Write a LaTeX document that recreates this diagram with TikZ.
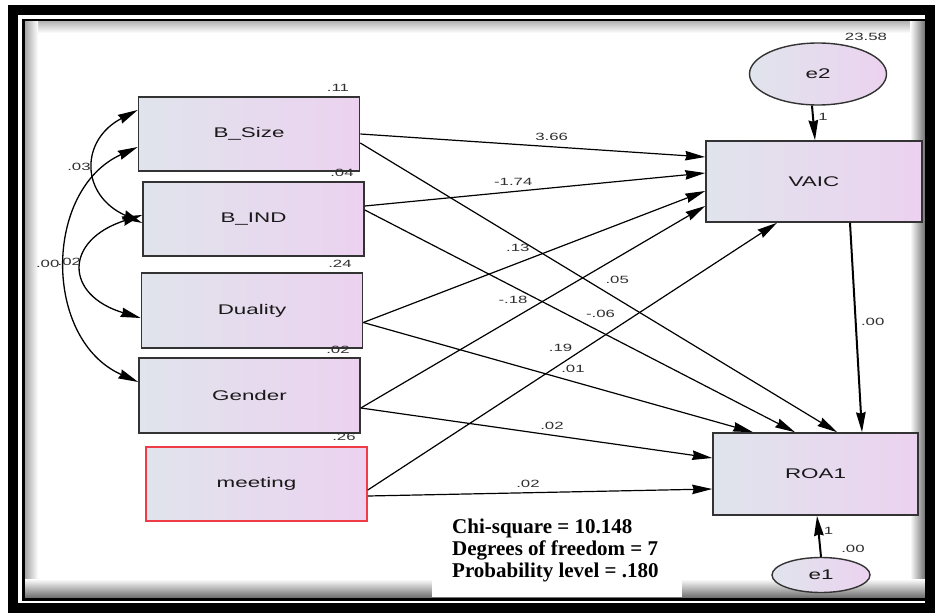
\documentclass[tikz,border=0pt]{standalone}
\usepackage{fontspec}
\setmainfont{Liberation Sans}
\newfontfamily\chifont{Liberation Serif}
\usepackage{graphicx}
\usetikzlibrary{shapes.geometric, arrows.meta}

\definecolor{boxleft}{HTML}{E0E4EC}
\definecolor{boxright}{HTML}{ECD2F0}
\definecolor{labelgray}{HTML}{303030}
\definecolor{meetred}{HTML}{F03C46}

% AMOS output is stretched sideways
\newcommand{\amos}[1]{\scalebox{1.6}[1]{#1}}

\begin{document}
\begin{tikzpicture}[x=1pt,y=-1pt,>={Stealth[length=20pt,width=9.5pt,inset=1.5pt]},
    var/.style={rectangle,draw=black!80,line width=1.6pt,left color=boxleft,right color=boxright,
        minimum width=221pt,minimum height=74pt,inner sep=0pt,text=black!90,font=\fontsize{14}{16}\selectfont},
    err/.style={ellipse,draw=black!80,line width=1.4pt,left color=boxleft,right color=boxright,
        inner sep=0pt,text=black!90,font=\fontsize{14}{16}\selectfont},
    reg/.style={->,line width=1.2pt},
    cov/.style={<->,line width=1.3pt},
    lbl/.style={inner sep=0pt,text=labelgray,font=\fontsize{10.5}{12}\selectfont}]
    \useasboundingbox (0,0) rectangle (938,613);
    \fill[white] (0,0) rectangle (938,613);

    % shadow inside the frame
    \shade[top color=black!30,bottom color=white] (25,21) rectangle (925,33);
    \shade[left color=black!35,right color=white] (25,21) rectangle (38,597);
    \shade[left color=white,right color=black!55] (910,21) rectangle (925,597);
    \shade[top color=white,bottom color=black!55] (25,579) rectangle (925,597);
    \fill[white] (432,515) rectangle (682,597);

    \node[var] (bsize) at (249,134) {\amos{B\_Size}};
    \node[var] (bind) at (253.5,219) {\amos{B\_IND}};
    \node[var,minimum height=75pt] (duality) at (252,310.5) {\amos{Duality}};
    \node[var,minimum height=75pt] (gender) at (249.5,395.5) {\amos{Gender}};
    \node[var,draw=meetred] (meeting) at (256.5,484) {\amos{meeting}};
    \node[var,minimum width=216pt,minimum height=81pt] (vaic) at (814,181.5) {\amos{VAIC}};
    \node[var,minimum width=205pt,minimum height=82pt] (roa) at (815.5,474) {\amos{ROA1}};
    \node[err,minimum width=137pt,minimum height=62pt] (e2) at (818,74) {\amos{e2}};
    \node[err,minimum width=98pt,minimum height=35pt] (e1) at (821,575) {\amos{e1}};

    \node[lbl] (r11) at (338,88) {\amos{.11}};
    \node[lbl] (r04) at (342,173) {\amos{.04}};
    \node[lbl] (r24) at (340,264) {\amos{.24}};
    \node[lbl] (r02) at (338,350) {\amos{.02}};
    \node[lbl] (r26) at (344,437) {\amos{.26}};
    \node[lbl] (re2) at (866,37) {\amos{23.58}};
    \node[lbl] (re1) at (853,549) {\amos{.00}};

    \draw[cov] ([yshift=24pt]bsize.west) .. controls (80,140) and (80,195) ..
        node[lbl,xshift=-16pt] {\amos{.03}} ([yshift=-4pt]bind.west);
    \draw[cov] ([yshift=-13pt]bsize.west) .. controls (43,190) and (43,340) ..
        node[lbl,xshift=-19pt,yshift=1pt] {\amos{.00}} ([yshift=13.5pt]gender.west);
    \draw[cov] ([yshift=4pt]bind.west) .. controls (64,240) and (64,295) ..
        node[lbl,xshift=-14pt,yshift=5pt] {\amos{.02}} ([yshift=-7.5pt]duality.west);

    \path[reg] (bsize.east) edge node[lbl,pos=.555,yshift=10pt] {\amos{3.66}} ([yshift=24.5pt]vaic.west)
          ([yshift=-9pt]bsize.east) edge node[lbl,pos=.539,yshift=19pt] {\amos{.05}} ([xshift=21.5pt]roa.north)
          ([yshift=13pt]bind.east) edge node[lbl,pos=.436,yshift=10pt] {\amos{-1.74}} ([yshift=8.5pt]vaic.west)
          ([yshift=9pt]bind.east) edge node[lbl,pos=.548,yshift=18pt] {\amos{-.06}} ([xshift=-20.5pt]roa.north)
          ([yshift=-12pt]duality.east) edge node[lbl,pos=.452,yshift=15pt] {\amos{.13}} ([yshift=-9.5pt]vaic.west)
          ([yshift=-12pt]duality.east) edge node[lbl,pos=.538,yshift=13pt] {\amos{.01}} ([xshift=-62.5pt]roa.north)
          ([yshift=-12.5pt]gender.east) edge node[lbl,pos=.442,yshift=19pt] {\amos{-.18}} ([yshift=-24.5pt]vaic.west)
          ([yshift=-12.5pt]gender.east) edge node[lbl,pos=.544,yshift=9pt] {\amos{.02}} ([yshift=16pt]roa.west)
          ([yshift=-6pt]meeting.east) edge node[lbl,pos=.471,yshift=16pt] {\amos{.19}} ([xshift=-37pt]vaic.south)
          ([yshift=-12pt]meeting.east) edge node[lbl,pos=.465,yshift=9pt] {\amos{.02}} ([yshift=-15pt]roa.west)
          ([xshift=36pt]vaic.south) edge[line width=2pt] node[lbl,pos=.474,xshift=17pt] {\amos{.00}} ([xshift=46.5pt]roa.north)
          ([xshift=-6pt]e2.south) edge[line width=2pt] node[lbl,pos=.33,xshift=10pt] {\amos{1}} ([xshift=1pt]vaic.north)
          (e1.north) edge[line width=2pt] node[lbl,pos=.64,xshift=10pt] {\amos{1}} ([xshift=1.5pt]roa.south);

    \node[anchor=north west,inner sep=0pt,align=left,font=\chifont\bfseries\fontsize{21}{22}\selectfont] (fit)
        at (452,519) {Chi-square = 10.148\\Degrees of freedom = 7\\Probability level = .180};

    % frame
    \draw[line width=10pt] (13,10) rectangle (930,608);
    \draw[line width=2.5pt] (23.5,20) rectangle (927,599.5);
\end{tikzpicture}
\end{document}
